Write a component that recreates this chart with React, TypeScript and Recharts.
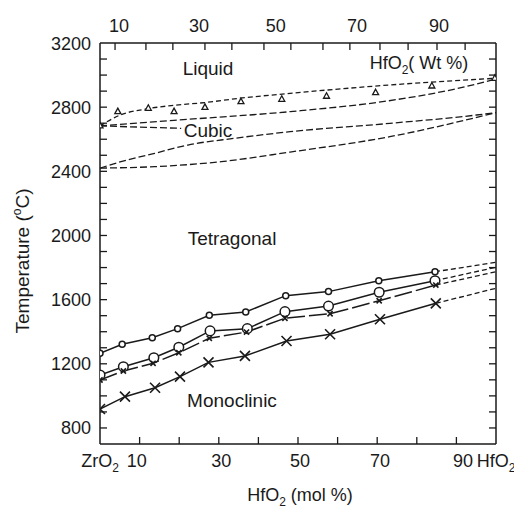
import React from 'react';
import { ComposedChart, Line, Scatter, XAxis, YAxis } from 'recharts';

const INK = '#1a1a1a';
const FONT = '"Liberation Sans", Arial, Helvetica, sans-serif';

// x = HfO2 (mol %), y = temperature (°C)

// liquid / liquid+cubic / cubic boundaries (dashed)
const liquidusMol = [0, 5, 12, 18, 27, 35, 48, 73, 100];
const liquidusT = [2683, 2750, 2790, 2810, 2830, 2855, 2886, 2938, 2980];
const solidusMol = [0, 20, 48, 73, 90, 100];
const solidusT = [2683, 2720, 2772, 2840, 2915, 2975];
const cubicTopMol = [0, 20.5];
const cubicTopT = [2683, 2668];
const cubicUpperMol = [0, 5.3, 13.8, 22.2, 34, 48, 73.2, 95.1, 100];
const cubicUpperT = [2420, 2460, 2512, 2564, 2606, 2647, 2699, 2751, 2766];
const cubicLowerMol = [0, 13.8, 30.6, 48, 73.2, 100];
const cubicLowerT = [2420, 2429, 2460, 2520, 2616, 2766];

// melting points (triangles)
const meltMol = [0, 4.5, 12.2, 18.7, 26.5, 35.6, 45.9, 57.2, 69.6, 83.8, 99.7];
const meltT = [2683, 2772, 2793, 2772, 2799, 2834, 2849, 2868, 2890, 2932, 2980];

// tetragonal <-> monoclinic transformation curves
const smallCircleMol = [0, 5.6, 13.2, 19.6, 27.6, 36.8, 46.9, 57.7, 70.4, 84.6];
const smallCircleT = [1266, 1322, 1363, 1419, 1502, 1523, 1625, 1650, 1718, 1774];
const bigCircleMol = [0, 5.9, 13.6, 19.9, 27.8, 37.2, 46.7, 57.7, 70.5, 84.6];
const bigCircleT = [1130, 1182, 1238, 1303, 1405, 1419, 1525, 1560, 1646, 1718];
const smallCrossMol = [0, 5.9, 13.4, 19.9, 27.6, 37.0, 46.7, 58.1, 70.5, 84.8];
const smallCrossT = [1099, 1155, 1203, 1269, 1359, 1398, 1484, 1512, 1593, 1691];
const bigCrossMol = [0, 6.3, 13.9, 20.2, 27.4, 36.6, 47.1, 58.1, 70.7, 84.8];
const bigCrossT = [918, 995, 1051, 1120, 1209, 1249, 1342, 1384, 1478, 1577];

// extrapolated ends at pure HfO2
const endMol = 100;
const smallCircleEnd = 1833;
const bigCircleEnd = 1802;
const smallCrossEnd = 1774;
const bigCrossEnd = 1671;

// axes
const yTicks = [700, 800, 900, 1000, 1100, 1200, 1300, 1400, 1500, 1600, 1700, 1800, 1900, 2000, 2100, 2200, 2300, 2400, 2500, 2600, 2700, 2800, 2900, 3000, 3100, 3200];
const yLabels = [800, 1200, 1600, 2000, 2400, 2800, 3200];
const bottomMarks = [10, 20, 30, 40, 50, 60, 70, 80, 90];
const bottomLabelMol = [0, 9.3, 30.6, 50.5, 70.7, 91.7, 100];
const bottomLabelText = ['ZrO2', '10', '30', '50', '70', '90', 'HfO2'];
const topMarks = [3.8, 11.6, 18.4, 26.5, 33.3, 41.4, 48.2, 56.3, 63.1, 70.7, 77.8, 85.1, 92.2];
const topLabelMol = [4.8, 25, 44.4, 64.9, 85.6];
const topLabelText = ['10', '30', '50', '70', '90'];

const zip = (mol: number[], t: number[]) => mol.map((m, i) => ({ m, t: t[i] }));
const tail = (mol: number[], t: number[], end: number) => [
  { m: mol[mol.length - 1], t: t[t.length - 1] },
  { m: endMol, t: end },
];

const Chem = ({ base }: { base: string }) => (
  <>
    {base}
    <tspan fontSize={12} dy={5}>2</tspan>
  </>
);

const renderLeftTick = (props: any) => {
  const { x, y, payload } = props;
  const v = payload.value;
  return (
    <g key={`yl-${v}`}>
      {v > 700 && v < 3200 && <line x1={x} y1={y} x2={x + 7} y2={y} stroke={INK} strokeWidth={1.3} />}
      {yLabels.includes(v) && (
        <text x={x - 9} y={y + 6.5} textAnchor="end" fontSize={18} fontFamily={FONT} fill={INK}>
          {v}
        </text>
      )}
    </g>
  );
};

const renderRightTick = (props: any) => {
  const { x, y, payload } = props;
  const v = payload.value;
  if (v <= 700 || v >= 3200) return <g key={`yr-${v}`} />;
  return (
    <g key={`yr-${v}`}>
      <line x1={x} y1={y} x2={x - 7} y2={y} stroke={INK} strokeWidth={1.3} />
    </g>
  );
};

const renderBottomTick = (props: any) => {
  const { x, y, payload } = props;
  const v = payload.value;
  const i = bottomLabelMol.indexOf(v);
  if (i < 0) {
    return (
      <g key={`xb-${v}`}>
        <line x1={x} y1={y} x2={x} y2={y - 7} stroke={INK} strokeWidth={1.3} />
      </g>
    );
  }
  const label = bottomLabelText[i];
  const chem = label.endsWith('O2');
  return (
    <g key={`xbl-${v}`}>
      <text x={x} y={y + 23} textAnchor="middle" fontSize={18} fontFamily={FONT} fill={INK}>
        {chem ? <Chem base={label.slice(0, -1)} /> : label}
      </text>
    </g>
  );
};

const renderTopTick = (props: any) => {
  const { x, y, payload } = props;
  const v = payload.value;
  const i = topLabelMol.indexOf(v);
  if (i < 0) {
    return (
      <g key={`xt-${v}`}>
        <line x1={x} y1={y} x2={x} y2={y + 7} stroke={INK} strokeWidth={1.3} />
      </g>
    );
  }
  return (
    <g key={`xtl-${v}`}>
      <text x={x} y={y - 11} textAnchor="middle" fontSize={18} fontFamily={FONT} fill={INK}>
        {topLabelText[i]}
      </text>
    </g>
  );
};

const circleDot = (r: number) => (props: any) => {
  const { cx, cy, index } = props;
  return <circle key={`c${r}-${index}`} cx={cx} cy={cy} r={r} fill="#fff" stroke={INK} strokeWidth={1.5} />;
};

const crossDot = (s: number) => (props: any) => {
  const { cx, cy, index } = props;
  return (
    <path
      key={`x${s}-${index}`}
      d={`M${cx - s},${cy - s}L${cx + s},${cy + s}M${cx - s},${cy + s}L${cx + s},${cy - s}`}
      stroke={INK}
      strokeWidth={1.6}
      fill="none"
    />
  );
};

const triangle = (props: any) => {
  const { cx, cy } = props;
  return (
    <path
      d={`M${cx},${cy - 3.5}L${cx + 3},${cy + 2}L${cx - 3},${cy + 2}Z`}
      fill="#fff"
      stroke={INK}
      strokeWidth={1.3}
    />
  );
};

const txt = { fontFamily: FONT, fill: INK } as const;

export default function App() {
  const dashed = (key: string, data: any[], dash = '7 3') => (
    <Line
      key={key}
      data={data}
      dataKey="t"
      type="monotone"
      stroke={INK}
      strokeWidth={1.3}
      strokeDasharray={dash}
      dot={false}
      activeDot={false}
      isAnimationActive={false}
    />
  );

  return (
    <div style={{ width: 514, height: 500 }}>
      <ComposedChart
        width={514}
        height={500}
        margin={{ top: 5, right: 6, bottom: 34, left: 32 }}
        style={{ overflow: 'visible' }}
      >
        <XAxis
          type="number"
          dataKey="m"
          domain={[0, 100]}
          allowDataOverflow
          ticks={[...bottomMarks, ...bottomLabelMol]}
          interval={0}
          height={30}
          tickSize={0}
          tickMargin={0}
          tickLine={false}
          axisLine={{ stroke: INK, strokeWidth: 1.5 }}
          tick={renderBottomTick}
        />
        <XAxis
          xAxisId="top"
          orientation="top"
          type="number"
          dataKey="m"
          domain={[0, 100]}
          allowDataOverflow
          ticks={[...topMarks, ...topLabelMol]}
          interval={0}
          height={30}
          tickSize={0}
          tickMargin={0}
          tickLine={false}
          axisLine={{ stroke: INK, strokeWidth: 1.5 }}
          tick={renderTopTick}
        />
        <YAxis
          type="number"
          dataKey="t"
          domain={[700, 3200]}
          allowDataOverflow
          ticks={yTicks}
          interval={0}
          width={60}
          tickSize={0}
          tickMargin={0}
          tickLine={false}
          axisLine={{ stroke: INK, strokeWidth: 1.5 }}
          tick={renderLeftTick}
        />
        <YAxis
          yAxisId="r"
          orientation="right"
          type="number"
          dataKey="t"
          domain={[700, 3200]}
          allowDataOverflow
          ticks={yTicks}
          interval={0}
          width={20}
          tickSize={0}
          tickMargin={0}
          tickLine={false}
          axisLine={{ stroke: INK, strokeWidth: 1.5 }}
          tick={renderRightTick}
        />

        {dashed('liquidus', zip(liquidusMol, liquidusT), '5 3')}
        {dashed('solidus', zip(solidusMol, solidusT))}
        {dashed('cubicTop', zip(cubicTopMol, cubicTopT))}
        {dashed('cubicUpper', zip(cubicUpperMol, cubicUpperT))}
        {dashed('cubicLower', zip(cubicLowerMol, cubicLowerT))}

        {dashed('ext1', tail(smallCircleMol, smallCircleT, smallCircleEnd), '5 3')}
        {dashed('ext2', tail(bigCircleMol, bigCircleT, bigCircleEnd), '5 3')}
        {dashed('ext3', tail(smallCrossMol, smallCrossT, smallCrossEnd), '5 3')}
        {dashed('ext4', tail(bigCrossMol, bigCrossT, bigCrossEnd), '5 3')}

        <Line
          data={zip(smallCircleMol, smallCircleT)}
          dataKey="t"
          type="linear"
          stroke={INK}
          strokeWidth={1.5}
          dot={circleDot(3)}
          activeDot={false}
          isAnimationActive={false}
        />
        <Line
          data={zip(bigCircleMol, bigCircleT)}
          dataKey="t"
          type="linear"
          stroke={INK}
          strokeWidth={1.5}
          dot={circleDot(4.8)}
          activeDot={false}
          isAnimationActive={false}
        />
        <Line
          data={zip(smallCrossMol, smallCrossT)}
          dataKey="t"
          type="linear"
          stroke={INK}
          strokeWidth={1.5}
          strokeDasharray="18 4"
          dot={crossDot(2.6)}
          activeDot={false}
          isAnimationActive={false}
        />
        <Line
          data={zip(bigCrossMol, bigCrossT)}
          dataKey="t"
          type="linear"
          stroke={INK}
          strokeWidth={1.5}
          dot={crossDot(5)}
          activeDot={false}
          isAnimationActive={false}
        />

        <Scatter
          xAxisId="top"
          yAxisId="r"
          data={zip(meltMol, meltT)}
          shape={triangle}
          isAnimationActive={false}
        />

        <text x={200} y={67} textAnchor="middle" fontSize={19} {...txt}>Liquid</text>
        <text x={411} y={61} textAnchor="middle" fontSize={18} {...txt}>
          HfO<tspan fontSize={12} dy={5}>2</tspan>
          <tspan dy={-5}>( Wt %)</tspan>
        </text>
        <text x={200} y={129} textAnchor="middle" fontSize={19} {...txt}>Cubic</text>
        <text x={224} y={237} textAnchor="middle" fontSize={19} {...txt}>Tetragonal</text>
        <text x={224} y={399} textAnchor="middle" fontSize={19} {...txt}>Monoclinic</text>
        <text x={292} y={493} textAnchor="middle" fontSize={18} {...txt}>
          HfO<tspan fontSize={12} dy={5}>2</tspan>
          <tspan dy={-5}> (mol %)</tspan>
        </text>
        <text x={21} y={253} textAnchor="middle" fontSize={19} transform="rotate(-90 21 253)" {...txt}>
          Temperature (<tspan fontSize={12} dy={-8}>o</tspan>
          <tspan dy={8}>C)</tspan>
        </text>
      </ComposedChart>
    </div>
  );
}
